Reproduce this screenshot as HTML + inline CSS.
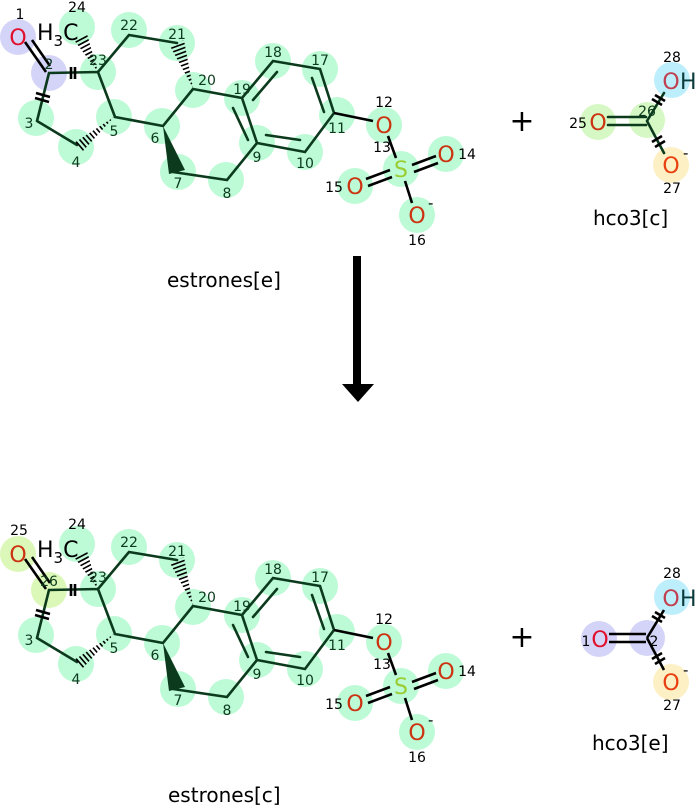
<!DOCTYPE html>
<html><head><meta charset="utf-8"><style>
html,body{margin:0;padding:0;background:#fff;}
svg{display:block;font-family:"DejaVu Sans","Liberation Sans",sans-serif;}
.n{font-size:14px;text-anchor:middle;fill:#0b3a1c;}
.nk{font-size:14px;text-anchor:middle;fill:#000;}
.a{font-size:22px;text-anchor:middle;}
.b{stroke:#0b3a1c;stroke-width:2.6;fill:none;stroke-linecap:round;}
.k{stroke:#000;stroke-width:2.6;fill:none;}
.lab{font-size:20px;fill:#000;}
</style></head><body>
<svg width="696" height="805" viewBox="0 0 696 805" xmlns="http://www.w3.org/2000/svg">
<defs>
<clipPath id="w1"><polygon points="98,72 74,40 87,34"/></clipPath>
<clipPath id="w2"><polygon points="193,88 170,46 184,40"/></clipPath>
<clipPath id="w3"><polygon points="114,117 74,143 82,152"/></clipPath>
</defs>

<g id="top">
<g fill="#bdfad6">
<circle cx="77" cy="27" r="18"/><circle cx="98" cy="72" r="18"/><circle cx="129" cy="30" r="18"/><circle cx="177" cy="43" r="18"/>
<circle cx="193" cy="90" r="18"/><circle cx="36" cy="118" r="18"/><circle cx="76" cy="147" r="18"/><circle cx="114" cy="117" r="18"/>
<circle cx="162" cy="126" r="18"/><circle cx="178" cy="172" r="18"/><circle cx="226" cy="180" r="18"/><circle cx="257" cy="143" r="18"/>
<circle cx="242" cy="98" r="18"/><circle cx="273" cy="61" r="18"/><circle cx="320" cy="69" r="18"/><circle cx="337" cy="115" r="18"/>
<circle cx="305" cy="152" r="18"/><circle cx="384" cy="125" r="18"/><circle cx="401" cy="169" r="18"/><circle cx="446" cy="154" r="18"/>
<circle cx="355" cy="186" r="18"/><circle cx="417" cy="215" r="18"/>
</g>
<circle cx="18" cy="37" r="18" fill="#d4d4f8"/><circle cx="49" cy="73" r="18" fill="#d4d4f8"/>
<circle cx="598" cy="122" r="18" fill="#d6f8c4"/><circle cx="647" cy="120" r="18" fill="#d6f8c4"/>
<circle cx="672" cy="80" r="18" fill="#bdeefc"/><circle cx="671" cy="165" r="18" fill="#fdf0c4"/>

<line class="k" x1="25" y1="42" x2="46" y2="72"/><line class="k" x1="32" y1="40" x2="50" y2="66"/>
<path class="b" d="M49,73 L98,72 L129,35 L177,43 M193,89 L163,126 L115,117 L98,72 M37,121 L49,73 M37,121 L77,145 M173,172 L227,180 L257,143 L242,98 L193,89 M242,98 L273,61 L320,69 L334,113 L305,152 L257,143"/>
<path class="b" d="M277,72 L253,100 M312,78 L324,112 M300,140 L266,135 M233,108 L248,140"/>
<line class="k" x1="71" y1="67" x2="71" y2="79"/><line class="k" x1="75" y1="67" x2="75" y2="79"/>
<line class="k" x1="36" y1="93" x2="50" y2="97"/><line class="k" x1="35" y1="98" x2="49" y2="102"/>
<line x1="98" y1="72" x2="80" y2="38" stroke="#000" stroke-width="16" stroke-dasharray="1.6 2.4" clip-path="url(#w1)"/>
<line x1="193" y1="88" x2="176" y2="42" stroke="#000" stroke-width="16" stroke-dasharray="1.6 2.4" clip-path="url(#w2)"/>
<line x1="114" y1="117" x2="78" y2="148" stroke="#000" stroke-width="16" stroke-dasharray="1.6 2.4" clip-path="url(#w3)"/>
<polygon points="163,126 169,174 185,170" fill="#0b3a1c"/>
<path class="k" d="M334,113 L373,121 M388,136 L396,158 M412,165 L436,156 M414,172 L438,163 M390,170 L366,179 M392,177 L368,186 M405,181 L412,203"/>

<text class="nk" x="20" y="19">1</text><text class="n" x="49" y="69">2</text>
<text class="n" x="29" y="128">3</text><text class="n" x="76" y="167">4</text><text class="n" x="114" y="136">5</text>
<text class="n" x="155" y="143">6</text><text class="n" x="178" y="188">7</text><text class="n" x="227" y="198">8</text>
<text class="n" x="257" y="162">9</text><text class="n" x="305" y="168">10</text><text class="n" x="337" y="133">11</text>
<text class="nk" x="384" y="107">12</text><text class="nk" x="382" y="152">13</text><text class="nk" x="467" y="159">14</text>
<text class="nk" x="334" y="192">15</text><text class="nk" x="417" y="245">16</text><text class="n" x="320" y="65">17</text>
<text class="n" x="273" y="57">18</text><text class="n" x="242" y="94">19</text><text class="n" x="207" y="85">20</text>
<text class="n" x="177" y="39">21</text><text class="n" x="129" y="30">22</text><text class="n" x="98" y="65">23</text>
<text class="nk" x="77" y="12">24</text>

<text class="a" x="18" y="45" fill="#e0102e">O</text>
<text x="37" y="40" font-size="22" fill="#000">H<tspan font-size="15" dy="6">3</tspan><tspan dy="-6">C</tspan></text>
<text class="a" x="384" y="133" fill="#cc3311">O</text>
<text class="a" x="401" y="177" fill="#9acd32">S</text>
<text class="a" x="446" y="162" fill="#cc3311">O</text>
<text class="a" x="355" y="194" fill="#cc3311">O</text>
<text class="a" x="417" y="223" fill="#cc3311">O</text>
<text x="428" y="208" font-size="15" fill="#000">-</text>

<text class="lab" x="167" y="287">estrones[e]</text>

<text x="522" y="131" font-size="30" text-anchor="middle" fill="#000">+</text>
<line class="b" x1="608" y1="117" x2="646" y2="117"/><line class="b" x1="608" y1="125" x2="646" y2="125"/>
<path class="b" d="M647,121 L664,93 M647,121 L664,153"/>
<line class="k" x1="652" y1="99" x2="662" y2="105"/><line class="k" x1="655" y1="95" x2="665" y2="101"/>
<line class="k" x1="652" y1="142" x2="662" y2="136"/><line class="k" x1="655" y1="147" x2="665" y2="141"/>
<text class="nk" x="578" y="128">25</text><text class="n" x="647" y="116">26</text>
<text class="nk" x="672" y="62">28</text><text class="nk" x="672" y="193">27</text>
<text class="a" x="598" y="130" fill="#cc3311">O</text>
<text class="a" x="671" y="89" fill="#c04050">O</text><text x="680" y="89" font-size="22" fill="#0b3a3a">H</text>
<text class="a" x="671" y="173" fill="#e84010">O</text>
<text x="683" y="158" font-size="15" fill="#000">-</text>
<text class="lab" x="593" y="225">hco3[c]</text>
</g>

<rect x="353" y="256" width="8" height="130" fill="#000"/>
<polygon points="342,384 374,384 358,402" fill="#000"/>

<g transform="translate(0,517)">
<g fill="#bdfad6">
<circle cx="77" cy="27" r="18"/><circle cx="98" cy="72" r="18"/><circle cx="129" cy="30" r="18"/><circle cx="177" cy="43" r="18"/>
<circle cx="193" cy="90" r="18"/><circle cx="36" cy="118" r="18"/><circle cx="76" cy="147" r="18"/><circle cx="114" cy="117" r="18"/>
<circle cx="162" cy="126" r="18"/><circle cx="178" cy="172" r="18"/><circle cx="226" cy="180" r="18"/><circle cx="257" cy="143" r="18"/>
<circle cx="242" cy="98" r="18"/><circle cx="273" cy="61" r="18"/><circle cx="320" cy="69" r="18"/><circle cx="337" cy="115" r="18"/>
<circle cx="305" cy="152" r="18"/><circle cx="384" cy="125" r="18"/><circle cx="401" cy="169" r="18"/><circle cx="446" cy="154" r="18"/>
<circle cx="355" cy="186" r="18"/><circle cx="417" cy="215" r="18"/>
</g>
<circle cx="18" cy="37" r="18" fill="#dcf8b8"/><circle cx="49" cy="73" r="18" fill="#dcf8b8"/>
<circle cx="599" cy="122" r="18" fill="#d4d4f8"/><circle cx="647" cy="121" r="18" fill="#d4d4f8"/>
<circle cx="672" cy="80" r="18" fill="#bdeefc"/><circle cx="671" cy="165" r="18" fill="#fdf0c4"/>

<line class="k" x1="25" y1="42" x2="46" y2="72"/><line class="k" x1="32" y1="40" x2="50" y2="66"/>
<path class="b" d="M49,73 L98,72 L129,35 L177,43 M193,89 L163,126 L115,117 L98,72 M37,121 L49,73 M37,121 L77,145 M173,172 L227,180 L257,143 L242,98 L193,89 M242,98 L273,61 L320,69 L334,113 L305,152 L257,143"/>
<path class="b" d="M277,72 L253,100 M312,78 L324,112 M300,140 L266,135 M233,108 L248,140"/>
<line class="k" x1="71" y1="67" x2="71" y2="79"/><line class="k" x1="75" y1="67" x2="75" y2="79"/>
<line class="k" x1="36" y1="93" x2="50" y2="97"/><line class="k" x1="35" y1="98" x2="49" y2="102"/>
<line x1="98" y1="72" x2="80" y2="38" stroke="#000" stroke-width="16" stroke-dasharray="1.6 2.4" clip-path="url(#w1)"/>
<line x1="193" y1="88" x2="176" y2="42" stroke="#000" stroke-width="16" stroke-dasharray="1.6 2.4" clip-path="url(#w2)"/>
<line x1="114" y1="117" x2="78" y2="148" stroke="#000" stroke-width="16" stroke-dasharray="1.6 2.4" clip-path="url(#w3)"/>
<polygon points="163,126 169,174 185,170" fill="#0b3a1c"/>
<path class="k" d="M334,113 L373,121 M388,136 L396,158 M412,165 L436,156 M414,172 L438,163 M390,170 L366,179 M392,177 L368,186 M405,181 L412,203"/>

<text class="nk" x="19" y="18">25</text><text class="n" x="49" y="69">26</text>
<text class="n" x="29" y="128">3</text><text class="n" x="76" y="167">4</text><text class="n" x="114" y="136">5</text>
<text class="n" x="155" y="143">6</text><text class="n" x="178" y="188">7</text><text class="n" x="227" y="198">8</text>
<text class="n" x="257" y="162">9</text><text class="n" x="305" y="168">10</text><text class="n" x="337" y="133">11</text>
<text class="nk" x="384" y="107">12</text><text class="nk" x="382" y="152">13</text><text class="nk" x="467" y="159">14</text>
<text class="nk" x="334" y="192">15</text><text class="nk" x="417" y="245">16</text><text class="n" x="320" y="65">17</text>
<text class="n" x="273" y="57">18</text><text class="n" x="242" y="94">19</text><text class="n" x="207" y="85">20</text>
<text class="n" x="177" y="39">21</text><text class="n" x="129" y="30">22</text><text class="n" x="98" y="65">23</text>
<text class="nk" x="77" y="12">24</text>

<text class="a" x="18" y="45" fill="#cc3311">O</text>
<text x="37" y="40" font-size="22" fill="#000">H<tspan font-size="15" dy="6">3</tspan><tspan dy="-6">C</tspan></text>
<text class="a" x="384" y="133" fill="#cc3311">O</text>
<text class="a" x="401" y="177" fill="#9acd32">S</text>
<text class="a" x="446" y="162" fill="#cc3311">O</text>
<text class="a" x="355" y="194" fill="#cc3311">O</text>
<text class="a" x="417" y="223" fill="#cc3311">O</text>
<text x="428" y="208" font-size="15" fill="#000">-</text>

<text class="lab" x="168" y="285">estrones[c]</text>

<text x="522" y="130" font-size="30" text-anchor="middle" fill="#000">+</text>
<line class="k" x1="609" y1="117" x2="646" y2="117"/><line class="k" x1="609" y1="125" x2="646" y2="125"/>
<path class="k" d="M647,121 L664,93 M647,121 L664,153"/>
<line class="k" x1="652" y1="99" x2="662" y2="105"/><line class="k" x1="655" y1="95" x2="665" y2="101"/>
<line class="k" x1="652" y1="142" x2="662" y2="136"/><line class="k" x1="655" y1="147" x2="665" y2="141"/>
<text class="nk" x="586" y="129">1</text><text class="nk" x="654" y="129">2</text>
<text class="nk" x="672" y="61">28</text><text class="nk" x="672" y="193">27</text>
<text class="a" x="600" y="130" fill="#e0102e">O</text>
<text class="a" x="671" y="89" fill="#c04050">O</text><text x="680" y="89" font-size="22" fill="#0b3a3a">H</text>
<text class="a" x="671" y="173" fill="#e84010">O</text>
<text x="683" y="158" font-size="15" fill="#000">-</text>
<text class="lab" x="592" y="233">hco3[e]</text>
</g>
</svg>
</body></html>
